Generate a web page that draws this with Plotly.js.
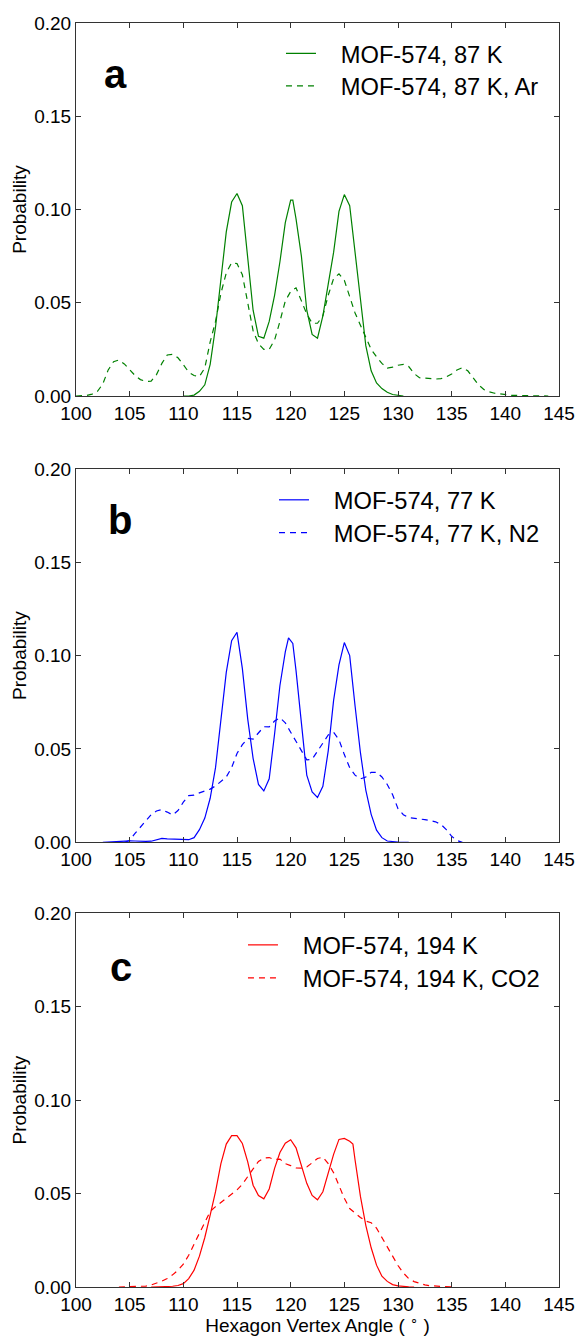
<!DOCTYPE html>
<html>
<head>
<meta charset="utf-8">
<script src="https://cdn.plot.ly/plotly-3.0.1.min.js"></script>
<style>html,body{margin:0;padding:0;background:#fff;}#chart{width:577px;height:1336px;}</style>
</head>
<body>
<div id="chart"></div>
<script>
// ---------- Panel a: 87 K ----------
const a_solid_x = [110,110.5,111,111.5,112,112.5,113,113.5,114,114.5,115,115.5,116,116.5,117,117.5,118,118.5,119,119.5,120,120.2,120.5,121,121.5,122,122.5,123,123.5,124,124.5,125,125.5,126,126.5,127,127.5,128,128.5,129,129.5,130,130.5];
const a_solid_y = [0,0,0.0005,0.0025,0.006,0.017,0.037,0.063,0.088,0.104,0.1086,0.102,0.075,0.046,0.032,0.031,0.040,0.054,0.072,0.093,0.105,0.105,0.095,0.075,0.046,0.033,0.031,0.043,0.060,0.077,0.099,0.108,0.102,0.078,0.051,0.027,0.0135,0.007,0.004,0.002,0.0008,0.0002,0];
const a_gas_x = [100,100.5,101,101.5,102,102.5,103,103.5,104,104.5,105,105.5,106,106.5,107,107.5,108,108.5,109,109.5,110,110.5,111,111.5,112,112.5,113,113.5,114,114.5,115,115.5,116,116.5,117,117.5,118,118.5,119,119.5,120,120.5,121,121.5,122,122.5,123,123.5,124,124.5,125,125.5,126,126.5,127,127.5,128,128.5,129,129.5,130,130.5,131,131.5,132,132.5,133,133.5,134,134.5,135,135.5,136,136.5,137,137.5,138,138.5,139,139.5,140,140.5,141,141.5,142,142.5,143,143.5,144];
const a_gas_y = [0,0,0.0003,0.001,0.0025,0.0065,0.014,0.0184,0.0193,0.0172,0.0142,0.011,0.0088,0.0078,0.008,0.0115,0.0175,0.022,0.0223,0.0205,0.0168,0.0128,0.011,0.0105,0.015,0.029,0.040,0.055,0.066,0.0715,0.071,0.065,0.050,0.035,0.028,0.025,0.025,0.030,0.040,0.051,0.056,0.058,0.051,0.044,0.039,0.039,0.043,0.054,0.063,0.0655,0.062,0.053,0.0445,0.038,0.031,0.025,0.021,0.0175,0.015,0.0155,0.0165,0.017,0.0158,0.012,0.0098,0.0095,0.0093,0.0091,0.0093,0.0103,0.0118,0.014,0.0152,0.0135,0.0098,0.006,0.0035,0.0022,0.0015,0.001,0.0005,0.0004,0.0003,0.0002,0.0002,0.0001,0.0001,0,0];

// ---------- Panel b: 77 K ----------
const b_solid_x = [102.5,103,103.5,104,104.5,105,105.5,106,106.5,107,107.5,108,108.5,109,109.5,110,110.5,111,111.5,112,112.5,113,113.5,114,114.5,115,115.5,116,116.5,117,117.5,118,118.5,119,119.5,119.8,120.2,120.5,121,121.5,122,122.5,123,123.5,124,124.5,125,125.5,126,126.5,127,127.5,128,128.5,129,129.5,130,130.5,131];
const b_solid_y = [0,0.0002,0.0004,0.0006,0.0007,0.0008,0.0007,0.0005,0.0005,0.0006,0.0015,0.0021,0.0019,0.0017,0.0016,0.0015,0.0014,0.0025,0.0068,0.013,0.0236,0.040,0.067,0.091,0.108,0.1125,0.093,0.066,0.045,0.031,0.0275,0.034,0.058,0.084,0.102,0.1095,0.1065,0.092,0.064,0.036,0.027,0.024,0.030,0.049,0.076,0.095,0.107,0.100,0.073,0.048,0.028,0.015,0.0065,0.0025,0.0007,0.0003,0.0001,0,0];
const b_gas_x = [104.5,105,105.5,106,106.5,107,107.5,108,108.5,109,109.5,110,110.5,111,111.5,112,112.5,113,113.5,114,114.5,115,115.5,116,116.5,117,117.5,118,118.5,119,119.5,120,120.5,121,121.5,122,122.5,123,123.5,124,124.5,125,125.5,126,126.5,127,127.5,128,128.5,129,129.5,130,130.5,131,131.5,132,132.5,133,133.5,134,134.5,135,135.5,136];
const b_gas_y = [0,0.001,0.0048,0.0083,0.0118,0.0148,0.0168,0.0175,0.0162,0.0147,0.017,0.0215,0.025,0.0253,0.0265,0.0275,0.0285,0.0302,0.0328,0.035,0.040,0.0476,0.0523,0.0557,0.0553,0.0584,0.0619,0.0618,0.065,0.0667,0.064,0.059,0.054,0.049,0.0442,0.0445,0.049,0.0535,0.0575,0.0589,0.055,0.047,0.040,0.036,0.034,0.035,0.0375,0.0375,0.035,0.031,0.0255,0.018,0.0148,0.0132,0.0127,0.0125,0.0122,0.0118,0.011,0.0096,0.0068,0.0032,0.001,0];

// ---------- Panel c: 194 K ----------
const c_solid_x = [107,107.5,108,108.5,109,109.5,110,110.5,111,111.5,112,112.5,113,113.5,114,114.5,115,115.5,116,116.5,117,117.5,118,118.5,119,119.5,120,120.5,121,121.5,122,122.5,123,123.5,124,124.5,125,125.5,125.8,126,126.5,127,127.5,128,128.5,129,129.5,130,130.5,131,131.5];
const c_solid_y = [0,0,0.0001,0.0002,0.0004,0.0008,0.0018,0.0045,0.009,0.0165,0.0265,0.0385,0.051,0.066,0.0765,0.081,0.081,0.0768,0.067,0.0545,0.049,0.0472,0.0525,0.0635,0.072,0.077,0.0788,0.0745,0.065,0.0555,0.049,0.0467,0.051,0.061,0.071,0.079,0.0795,0.078,0.0765,0.068,0.0485,0.033,0.021,0.0117,0.0058,0.003,0.0013,0.0006,0.0002,0.0001,0];
const c_gas_x = [104,104.5,105,105.5,106,106.5,107,107.5,108,108.5,109,109.5,110,110.5,111,111.5,112,112.5,113,113.5,114,114.5,115,115.5,116,116.5,117,117.5,118,118.5,119,119.5,120,120.5,121,121.5,122,122.5,123,123.5,124,124.5,125,125.5,126,126.5,127,127.5,128,128.5,129,129.5,130,130.5,131,131.5,132,132.5,133,133.5,134,134.5,135];
const c_gas_y = [0,0.0001,0.0002,0.0002,0.0003,0.0005,0.0011,0.002,0.0031,0.0045,0.0065,0.009,0.0122,0.017,0.0232,0.0288,0.0345,0.0405,0.043,0.0452,0.0476,0.0495,0.052,0.055,0.0588,0.0632,0.0672,0.069,0.0693,0.0682,0.0685,0.066,0.065,0.0638,0.0636,0.0642,0.0665,0.0688,0.0695,0.066,0.0612,0.0545,0.0475,0.042,0.0395,0.0372,0.0353,0.0344,0.0315,0.0265,0.0215,0.0165,0.0115,0.0075,0.0045,0.0029,0.0018,0.0011,0.0007,0.0005,0.0003,0.0002,0];

const xTicks = [100,105,110,115,120,125,130,135,140,145];
const yTicks = [0.00,0.05,0.10,0.15,0.20];
const names = ["MOF-574, 87 K","MOF-574, 87 K, Ar","MOF-574, 77 K","MOF-574, 77 K, N2","MOF-574, 194 K","MOF-574, 194 K, CO2"];
const panelLabels = ["a","b","c"];
const colors = ["#008000","#0000ff","#ff0000"];

const FONT = "Liberation Sans, Arial, Helvetica, sans-serif";
const pad = "\u00a0\u00a0\u00a0";

function tr(x, y, ci, dashed, ax, lg, name) {
  return {
    x: x, y: y, type: "scatter", mode: "lines", name: pad + name,
    xaxis: "x" + ax, yaxis: "y" + ax, legend: lg,
    line: {color: colors[ci], width: 1.2, dash: dashed ? "6px,5px" : "solid", shape: "linear"},
    hoverinfo: "skip"
  };
}

const traces = [
  tr(a_solid_x, a_solid_y, 0, false, "", "legend", names[0]),
  tr(a_gas_x, a_gas_y, 0, true, "", "legend2", names[1]),
  tr(b_solid_x, b_solid_y, 1, false, "2", "legend3", names[2]),
  tr(b_gas_x, b_gas_y, 1, true, "2", "legend4", names[3]),
  tr(c_solid_x, c_solid_y, 2, false, "3", "legend5", names[4]),
  tr(c_gas_x, c_gas_y, 2, true, "3", "legend6", names[5])
];

function xax(anchor, showTitle) {
  const o = {
    anchor: anchor, range: [100, 145], tickmode: "array", tickvals: xTicks,
    ticktext: xTicks.map(String),
    ticks: "inside", ticklen: 5, tickwidth: 1, tickcolor: "#333",
    showline: true, linecolor: "#333", linewidth: 1, mirror: "allticks",
    showgrid: false, zeroline: false,
    tickfont: {family: FONT, size: 19, color: "#000"}
  };
  if (showTitle) {
    o.title = {text: "Hexagon Vertex Angle ( <sup>\u2218</sup> )", font: {family: FONT, size: 19, color: "#000"}, standoff: 4};
  }
  return o;
}
function yax(anchor, dom) {
  return {
    anchor: anchor, domain: dom, range: [0, 0.2], tickmode: "array", tickvals: yTicks,
    ticktext: yTicks.map(v => v.toFixed(2)),
    ticks: "inside", ticklen: 5, tickwidth: 1, tickcolor: "#333",
    showline: true, linecolor: "#333", linewidth: 1, mirror: "allticks",
    showgrid: false, zeroline: false,
    tickfont: {family: FONT, size: 19, color: "#000"},
    title: {text: "Probability", font: {family: FONT, size: 19, color: "#000"}, standoff: 2}
  };
}
function leg(x, y) {
  return {x: x, y: y, xanchor: "left", yanchor: "top", xref: "paper", yref: "paper",
    bgcolor: "rgba(0,0,0,0)", borderwidth: 0,
    font: {family: FONT, size: 23.7, color: "#000"}};
}

const layout = {
  width: 577, height: 1336,
  margin: {l: 76, r: 18, t: 23, b: 49},
  paper_bgcolor: "#fff", plot_bgcolor: "#fff",
  showlegend: true,
  xaxis: xax("y", false),
  xaxis2: xax("y2", false),
  xaxis3: xax("y3", true),
  yaxis: yax("x", [0.7049, 1.0]),
  yaxis2: yax("x2", [0.3518, 0.6472]),
  yaxis3: yax("x3", [0.0, 0.2956]),
  legend: leg(0.4244, 0.9933),
  legend2: leg(0.4244, 0.9676),
  legend3: leg(0.4099, 0.6401),
  legend4: leg(0.4099, 0.6142),
  legend5: leg(0.3457, 0.2880),
  legend6: leg(0.3457, 0.2619),
  annotations: [
    {text: "<b>" + panelLabels[0] + "</b>", x: 0.0538, y: 0.9597, xref: "paper", yref: "paper", xanchor: "left", yanchor: "middle", showarrow: false, font: {family: FONT, size: 40, color: "#000"}},
    {text: "<b>" + panelLabels[1] + "</b>", x: 0.0621, y: 0.6068, xref: "paper", yref: "paper", xanchor: "left", yanchor: "middle", showarrow: false, font: {family: FONT, size: 40, color: "#000"}},
    {text: "<b>" + panelLabels[2] + "</b>", x: 0.0663, y: 0.2532, xref: "paper", yref: "paper", xanchor: "left", yanchor: "middle", showarrow: false, font: {family: FONT, size: 40, color: "#000"}}
  ]
};

Plotly.newPlot("chart", traces, layout, {staticPlot: true, displayModeBar: false});
</script>
</body>
</html>
